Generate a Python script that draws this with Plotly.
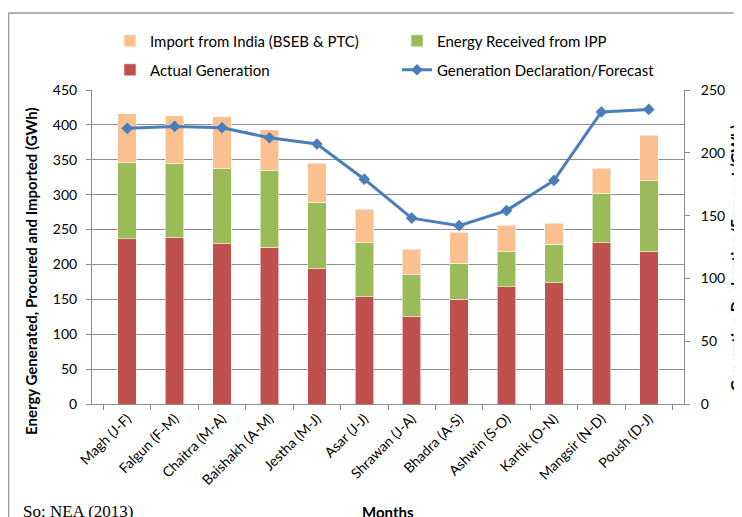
import plotly.graph_objects as go

months = ["Magh (J-F)", "Falgun (F-M)", "Chaitra (M-A)", "Baishakh (A-M)", "Jestha (M-J)",
          "Asar (J-J)", "Shrawan (J-A)", "Bhadra (A-S)", "Ashwin (S-O)", "Kartik (O-N)",
          "Mangsir (N-D)", "Poush (D-J)"]
actual_generation = [237, 238, 230, 225, 194, 154, 125, 150, 168, 174, 231, 218]
energy_from_ipp = [109, 106, 107, 110, 95, 77, 60, 52, 50, 55, 71, 102]
import_from_india = [70, 69, 75, 58, 56, 48, 37, 44, 38, 30, 36, 65]
generation_forecast = [219.5, 221, 220, 212, 207, 179, 148, 142, 154, 178, 232.5, 234.5]

FONT = "Lato"
W, H = 742, 517
OFF = 8  # page body margin offset
PW, PH = 592, 314
L, T = 92 - OFF, 90 - OFF
R, B = W - L - PW, H - T - PH

def px_x(x):
    return (x - OFF - L) / PW

def px_y(y):
    return (H - B - (y - OFF)) / PH

fig = go.Figure()
edge = dict(color="rgba(255,255,255,0.55)", width=1)
fig.add_trace(go.Bar(x=months, y=actual_generation, name="Actual Generation",
                     marker=dict(color="#C0504D", line=edge), legend="legend2", legendrank=1))
fig.add_trace(go.Bar(x=months, y=energy_from_ipp, name="Energy Received from IPP",
                     marker=dict(color="#9BBB59", line=edge), legend="legend", legendrank=2))
fig.add_trace(go.Bar(x=months, y=import_from_india, name="Import from India (BSEB & PTC)",
                     marker=dict(color="#FAC090", line=edge), legend="legend", legendrank=1))
fig.add_trace(go.Scatter(x=months, y=generation_forecast, name="Generation Declaration/Forecast",
                         mode="lines+markers", yaxis="y2",
                         line=dict(color="#4A7EBB", width=3),
                         marker=dict(symbol="diamond", size=9, color="#4A7EBB"),
                         legend="legend2", legendrank=2))

axis_col = "#8C8C8C"
leg_common = dict(orientation="h", xanchor="left", yanchor="middle", entrywidth=242,
                  entrywidthmode="pixels", font=dict(family=FONT, size=15, color="#000"),
                  bgcolor="rgba(0,0,0,0)", itemwidth=30, tracegroupgap=0,
                  traceorder="normal")
tick_font = dict(family=FONT, size=14, color="#000")

fig.update_layout(
    width=W, height=H,
    margin=dict(l=L, r=R, t=T, b=B, autoexpand=False),
    paper_bgcolor="white", plot_bgcolor="white",
    barmode="stack", bargap=0.61,
    font=dict(family=FONT, size=14, color="#000"),
    showlegend=True,
    legend=dict(x=px_x(110), y=px_y(41), **leg_common),
    legend2=dict(x=px_x(110), y=px_y(70), **leg_common),
    xaxis=dict(type="category", tickangle=-45, showline=True, linecolor=axis_col,
               ticks="outside", tickson="boundaries", ticklen=5, tickcolor=axis_col,
               tickfont=tick_font, showgrid=False, automargin=False),
    yaxis=dict(range=[0, 450], dtick=50, showline=True, linecolor=axis_col,
               ticks="outside", ticklen=5, tickcolor=axis_col,
               showgrid=True, gridcolor="#8C8C8C", gridwidth=1, zeroline=False,
               tickfont=tick_font, ticklabelstandoff=6, automargin=False),
    yaxis2=dict(range=[0, 250], dtick=50, overlaying="y", side="right",
                showline=True, linecolor=axis_col, ticks="outside", ticklen=5,
                tickcolor=axis_col, showgrid=False, zeroline=False,
                tickfont=tick_font, ticklabelstandoff=8, automargin=False),
)

fig.add_annotation(text="<b>Energy Generated, Procured and Imported (GWh)</b>",
                   xref="paper", yref="paper", x=px_x(31), y=px_y(271), textangle=-90,
                   showarrow=False, font=dict(family=FONT, size=15, color="#000"),
                   xanchor="center", yanchor="middle")
fig.add_annotation(text="<b>Generation Declaration/Forecast (GWh)</b>",
                   xref="paper", yref="paper", x=px_x(736), y=px_y(258), textangle=-90,
                   showarrow=False, font=dict(family=FONT, size=15, color="#000"),
                   xanchor="center", yanchor="middle")
fig.add_annotation(text="<b>Months</b>", xref="paper", yref="paper",
                   x=px_x(388), y=px_y(501), showarrow=False,
                   font=dict(family=FONT, size=15, color="#000"),
                   xanchor="center", yanchor="top")
fig.add_annotation(text="So: NEA (2013)", xref="paper", yref="paper",
                   x=px_x(21), y=px_y(500), showarrow=False,
                   font=dict(family="Liberation Serif", size=17, color="#000"),
                   xanchor="left", yanchor="top")

# outer chart frame (top and left edges visible)
fig.add_shape(type="line", xref="paper", yref="paper", x0=px_x(8.5), x1=px_x(760),
              y0=px_y(13), y1=px_y(13), line=dict(color="#999999", width=1.5))
fig.add_shape(type="line", xref="paper", yref="paper", x0=px_x(8.5), x1=px_x(8.5),
              y0=px_y(13), y1=px_y(540), line=dict(color="#999999", width=1.5))

fig.write_html("out.html")
